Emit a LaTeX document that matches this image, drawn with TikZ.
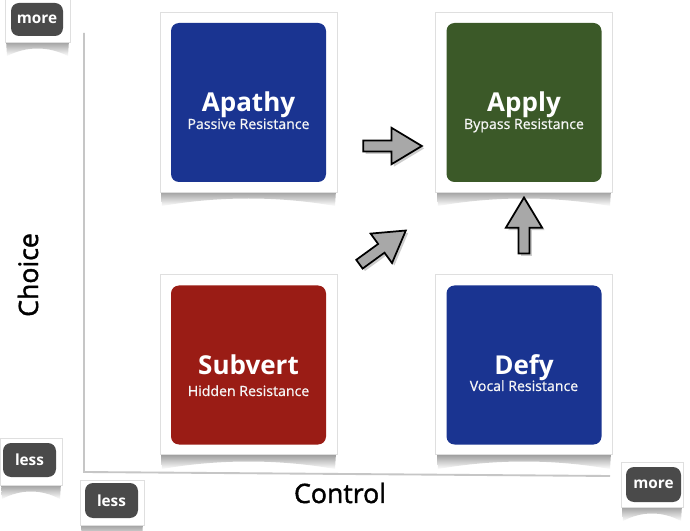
\documentclass[tikz,border=0pt]{standalone}
\usepackage{fontspec}
\setmainfont{Open Sans}
\newfontfamily\axisfont[FakeBold=1.6]{Open Sans}
\newfontfamily\subfont[FakeBold=0.8]{Open Sans}
\usetikzlibrary{shapes.arrows,shadows}
\definecolor{blueC}{RGB}{26,52,145}
\definecolor{greenC}{RGB}{59,89,40}
\definecolor{redC}{RGB}{154,28,21}
\definecolor{tagC}{RGB}{74,74,74}
\definecolor{arrC}{RGB}{168,168,168}
\newcommand{\curlshadow}[3]{% x1, x2, y (px)
  \shade[top color=gray!85, bottom color=white]
    (#1+1,#3-2) -- (#1+2,#3+14) .. controls ({#1+(#2-#1)/3},#3+4) and ({#2-(#2-#1)/3},#3+4) .. (#2-2,#3+14) -- (#2-1,#3-2) -- cycle;}
\begin{document}
\begin{tikzpicture}[x=0.75pt,y=-0.75pt,
  cardframe/.style={draw=gray!25, line width=0.6pt, fill=white, minimum width=177*0.75pt, minimum height=180*0.75pt, inner sep=0pt},
  cardbox/.style={rounded corners=6pt, minimum width=155*0.75pt, minimum height=159*0.75pt, inner sep=0pt},
  ttl/.style={anchor=base, text=white, font=\bfseries\fontsize{19.5}{19.5}\selectfont},
  sub/.style={anchor=base, text=white!92!gray, font=\subfont\fontsize{10.6}{11}\selectfont},
  tagframe/.style={draw=gray!25, line width=0.5pt, fill=white, inner sep=0pt},
  tagbox/.style={fill=tagC, rounded corners=6pt, inner sep=0pt, text=white, font=\bfseries\fontsize{11.5}{11.5}\selectfont},
  blockarrow/.style={single arrow, draw=black, line width=1.3pt, fill=arrC, inner xsep=0pt, inner ysep=3.4pt,
     text height=0pt, text depth=0pt, text width=0pt, single arrow head extend=9.6pt, single arrow tip angle=62,
     drop shadow={shadow xshift=1.8pt, shadow yshift=-1.8pt, opacity=0.4}},
  axislabel/.style={font=\axisfont\fontsize{20}{20}\selectfont, text=black}
]
\useasboundingbox (0,0) rectangle (690,531);
\fill[white] (0,0) rectangle (690,531);

% axes
\coordinate (ytop) at (84,33);
\coordinate (orig) at (84,472);
\coordinate (xend) at (610,476);
\draw[gray!45, line width=1.4pt] (ytop) -- (orig) -- (xend);

% card shadows
\curlshadow{160}{337}{192}
\curlshadow{436}{612}{192}
\curlshadow{160}{337}{455}
\curlshadow{436}{612}{455}

% cards
\node[cardframe] (fA) at (248.5,102) {};
\node[cardbox, fill=blueC] (bA) at (248.5,102.5) {};
\node[ttl] (tA) at (248.5,112) {Apathy};
\node[sub] (sA) at (248.5,129) {Passive Resistance};

\node[cardframe] (fP) at (524,102) {};
\node[cardbox, fill=greenC] (bP) at (524,102.5) {};
\node[ttl] (tP) at (524,112) {Apply};
\node[sub] (sP) at (524,129) {Bypass Resistance};

\node[cardframe] (fS) at (248.5,364.5) {};
\node[cardbox, fill=redC] (bS) at (248.5,365) {};
\node[ttl] (tS) at (248.5,375) {Subvert};
\node[sub] (sS) at (248.5,396) {Hidden Resistance};

\node[cardframe] (fD) at (524,364.5) {};
\node[cardbox, fill=blueC] (bD) at (524,365) {};
\node[ttl] (tD) at (524,374) {Defy};
\node[sub] (sD) at (524,391) {Vocal Resistance};

% block arrows
\node[blockarrow, minimum height=44pt] (arR) at (388,146) {};
\node[blockarrow, minimum height=42pt, rotate=90] (arU) at (524,230) {};
\node[blockarrow, minimum height=43pt, rotate=36] (arD) at (379,250) {};

% tags
\curlshadow{5}{70}{42}
\node[tagframe, minimum width=65*0.75pt, minimum height=44*0.75pt] (gTLf) at (37.5,20) {};
\node[tagbox, minimum width=52*0.75pt, minimum height=33*0.75pt] (gTL) at (37,19.5) {more};

\curlshadow{0}{62}{485}
\node[tagframe, minimum width=62*0.75pt, minimum height=47*0.75pt] (gLf) at (31,461.5) {};
\node[tagbox, minimum width=53*0.75pt, minimum height=34*0.75pt] (gL) at (29.5,460) {less};

\curlshadow{80}{144}{525}
\node[tagframe, minimum width=64*0.75pt, minimum height=45*0.75pt] (gBf) at (112,502.5) {};
\node[tagbox, minimum width=53*0.75pt, minimum height=35*0.75pt] (gB) at (111.5,500.5) {less};

\curlshadow{621}{683}{507}
\node[tagframe, minimum width=62*0.75pt, minimum height=45*0.75pt] (gRf) at (652,484.5) {};
\node[tagbox, minimum width=55*0.75pt, minimum height=35*0.75pt] (gR) at (653.5,484.5) {more};

% axis labels
\node[axislabel, rotate=90] (lC) at (28,275) {Choice};
\node[axislabel] (lX) at (340,493) {Control};
\end{tikzpicture}
\end{document}
